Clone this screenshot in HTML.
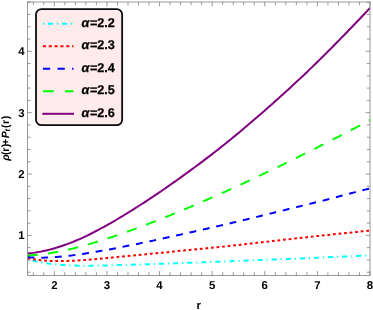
<!DOCTYPE html><html><head><meta charset="utf-8"><style>html,body{margin:0;padding:0;background:#fff}svg{display:block;will-change:transform;text-rendering:geometricPrecision}text{font-family:"Liberation Sans",sans-serif;font-weight:bold;fill:#000}</style></head><body>
<svg width="373" height="310" viewBox="0 0 373 310">
<rect width="373" height="310" fill="#fff"/>
<defs><clipPath id="c"><rect x="27.50" y="2.00" width="342.50" height="273.40"/></clipPath></defs>
<g clip-path="url(#c)" fill="none" stroke-width="2.00">
<path d="M27.59 259.10 L30.23 259.86 L32.86 260.66 L35.50 261.31 L38.14 261.87 L40.77 262.37 L43.41 262.83 L46.05 263.26 L48.68 263.63 L51.32 263.95 L53.96 264.24 L56.59 264.50 L59.23 264.73 L61.86 264.93 L64.50 265.11 L67.14 265.26 L69.77 265.38 L72.41 265.49 L75.05 265.57 L77.68 265.63 L80.32 265.67 L82.96 265.69 L85.59 265.70 L88.23 265.70 L90.87 265.68 L93.50 265.65 L96.14 265.62 L98.78 265.57 L101.41 265.52 L104.05 265.47 L106.69 265.40 L109.32 265.34 L111.96 265.27 L114.60 265.19 L117.23 265.12 L119.87 265.05 L122.51 264.97 L125.14 264.90 L127.78 264.82 L130.42 264.75 L133.05 264.68 L135.69 264.61 L138.33 264.53 L140.96 264.46 L143.60 264.38 L146.24 264.30 L148.87 264.21 L151.51 264.13 L154.15 264.04 L156.78 263.95 L159.42 263.87 L162.06 263.78 L164.69 263.68 L167.33 263.59 L169.97 263.50 L172.60 263.40 L175.24 263.31 L177.87 263.21 L180.51 263.12 L183.15 263.02 L185.78 262.92 L188.42 262.82 L191.06 262.72 L193.69 262.62 L196.33 262.52 L198.97 262.42 L201.60 262.32 L204.24 262.22 L206.88 262.12 L209.51 262.02 L212.15 261.92 L214.79 261.82 L217.42 261.71 L220.06 261.61 L222.70 261.51 L225.33 261.41 L227.97 261.30 L230.61 261.20 L233.24 261.10 L235.88 260.99 L238.52 260.89 L241.15 260.79 L243.79 260.68 L246.43 260.58 L249.06 260.48 L251.70 260.37 L254.34 260.27 L256.97 260.17 L259.61 260.07 L262.25 259.96 L264.88 259.86 L267.52 259.76 L270.16 259.65 L272.79 259.55 L275.43 259.45 L278.07 259.35 L280.70 259.24 L283.34 259.14 L285.97 259.04 L288.61 258.94 L291.25 258.84 L293.88 258.73 L296.52 258.63 L299.16 258.52 L301.79 258.41 L304.43 258.30 L307.07 258.18 L309.70 258.07 L312.34 257.95 L314.98 257.83 L317.61 257.72 L320.25 257.60 L322.89 257.48 L325.52 257.36 L328.16 257.24 L330.80 257.12 L333.43 257.00 L336.07 256.89 L338.71 256.77 L341.34 256.65 L343.98 256.54 L346.62 256.42 L349.25 256.31 L351.89 256.19 L354.53 256.08 L357.16 255.98 L359.80 255.87 L362.44 255.76 L365.07 255.66 L367.71 255.56 L370.35 255.46" stroke="#00ffff" stroke-dasharray="1.2 3.85 5.2 3.85"/>
<path d="M27.59 258.24 L30.23 258.71 L32.86 259.17 L35.50 259.57 L38.14 259.92 L40.77 260.22 L43.41 260.49 L46.05 260.70 L48.68 260.85 L51.32 260.96 L53.96 261.02 L56.59 261.05 L59.23 261.05 L61.86 261.04 L64.50 261.00 L67.14 260.94 L69.77 260.85 L72.41 260.75 L75.05 260.62 L77.68 260.48 L80.32 260.32 L82.96 260.14 L85.59 259.95 L88.23 259.75 L90.87 259.54 L93.50 259.32 L96.14 259.09 L98.78 258.85 L101.41 258.60 L104.05 258.35 L106.69 258.09 L109.32 257.84 L111.96 257.57 L114.60 257.31 L117.23 257.04 L119.87 256.78 L122.51 256.52 L125.14 256.25 L127.78 255.99 L130.42 255.73 L133.05 255.48 L135.69 255.22 L138.33 254.96 L140.96 254.70 L143.60 254.45 L146.24 254.19 L148.87 253.93 L151.51 253.67 L154.15 253.42 L156.78 253.16 L159.42 252.90 L162.06 252.65 L164.69 252.39 L167.33 252.13 L169.97 251.88 L172.60 251.62 L175.24 251.36 L177.87 251.10 L180.51 250.85 L183.15 250.59 L185.78 250.33 L188.42 250.07 L191.06 249.81 L193.69 249.55 L196.33 249.29 L198.97 249.02 L201.60 248.76 L204.24 248.50 L206.88 248.23 L209.51 247.97 L212.15 247.70 L214.79 247.43 L217.42 247.16 L220.06 246.89 L222.70 246.62 L225.33 246.34 L227.97 246.07 L230.61 245.79 L233.24 245.51 L235.88 245.22 L238.52 244.93 L241.15 244.64 L243.79 244.34 L246.43 244.05 L249.06 243.75 L251.70 243.45 L254.34 243.14 L256.97 242.84 L259.61 242.54 L262.25 242.23 L264.88 241.93 L267.52 241.62 L270.16 241.32 L272.79 241.01 L275.43 240.71 L278.07 240.41 L280.70 240.11 L283.34 239.82 L285.97 239.52 L288.61 239.23 L291.25 238.94 L293.88 238.65 L296.52 238.36 L299.16 238.07 L301.79 237.79 L304.43 237.50 L307.07 237.21 L309.70 236.92 L312.34 236.63 L314.98 236.35 L317.61 236.06 L320.25 235.78 L322.89 235.49 L325.52 235.21 L328.16 234.93 L330.80 234.64 L333.43 234.36 L336.07 234.08 L338.71 233.80 L341.34 233.53 L343.98 233.25 L346.62 232.97 L349.25 232.70 L351.89 232.43 L354.53 232.16 L357.16 231.89 L359.80 231.62 L362.44 231.35 L365.07 231.09 L367.71 230.82 L370.35 230.56" stroke="#ff0000" stroke-dasharray="2.8 2.78"/>
<path d="M27.59 257.11 L30.23 257.34 L32.86 257.51 L35.50 257.62 L38.14 257.68 L40.77 257.69 L43.41 257.66 L46.05 257.59 L48.68 257.49 L51.32 257.36 L53.96 257.19 L56.59 257.00 L59.23 256.79 L61.86 256.55 L64.50 256.28 L67.14 256.00 L69.77 255.69 L72.41 255.37 L75.05 255.02 L77.68 254.66 L80.32 254.28 L82.96 253.89 L85.59 253.49 L88.23 253.07 L90.87 252.64 L93.50 252.21 L96.14 251.76 L98.78 251.30 L101.41 250.84 L104.05 250.37 L106.69 249.89 L109.32 249.40 L111.96 248.91 L114.60 248.41 L117.23 247.90 L119.87 247.39 L122.51 246.87 L125.14 246.35 L127.78 245.83 L130.42 245.30 L133.05 244.76 L135.69 244.22 L138.33 243.68 L140.96 243.13 L143.60 242.59 L146.24 242.03 L148.87 241.48 L151.51 240.92 L154.15 240.36 L156.78 239.79 L159.42 239.23 L162.06 238.66 L164.69 238.09 L167.33 237.51 L169.97 236.94 L172.60 236.36 L175.24 235.78 L177.87 235.19 L180.51 234.61 L183.15 234.02 L185.78 233.43 L188.42 232.84 L191.06 232.25 L193.69 231.66 L196.33 231.06 L198.97 230.46 L201.60 229.87 L204.24 229.27 L206.88 228.66 L209.51 228.06 L212.15 227.46 L214.79 226.85 L217.42 226.24 L220.06 225.63 L222.70 225.02 L225.33 224.41 L227.97 223.80 L230.61 223.18 L233.24 222.56 L235.88 221.94 L238.52 221.32 L241.15 220.69 L243.79 220.06 L246.43 219.43 L249.06 218.79 L251.70 218.15 L254.34 217.51 L256.97 216.87 L259.61 216.23 L262.25 215.58 L264.88 214.94 L267.52 214.29 L270.16 213.64 L272.79 212.99 L275.43 212.34 L278.07 211.69 L280.70 211.04 L283.34 210.39 L285.97 209.74 L288.61 209.09 L291.25 208.44 L293.88 207.80 L296.52 207.15 L299.16 206.50 L301.79 205.85 L304.43 205.20 L307.07 204.54 L309.70 203.89 L312.34 203.24 L314.98 202.58 L317.61 201.92 L320.25 201.27 L322.89 200.61 L325.52 199.94 L328.16 199.27 L330.80 198.60 L333.43 197.91 L336.07 197.22 L338.71 196.53 L341.34 195.83 L343.98 195.13 L346.62 194.43 L349.25 193.73 L351.89 193.04 L354.53 192.35 L357.16 191.66 L359.80 190.98 L362.44 190.31 L365.07 189.65 L367.71 188.99 L370.35 188.35" stroke="#0000ff" stroke-dasharray="6.85 6.84"/>
<path d="M27.59 255.21 L30.23 255.18 L32.86 255.09 L35.50 254.93 L38.14 254.73 L40.77 254.47 L43.41 254.17 L46.05 253.83 L48.68 253.45 L51.32 253.03 L53.96 252.58 L56.59 252.10 L59.23 251.58 L61.86 251.04 L64.50 250.48 L67.14 249.89 L69.77 249.27 L72.41 248.63 L75.05 247.98 L77.68 247.30 L80.32 246.60 L82.96 245.88 L85.59 245.15 L88.23 244.40 L90.87 243.63 L93.50 242.85 L96.14 242.06 L98.78 241.24 L101.41 240.42 L104.05 239.58 L106.69 238.73 L109.32 237.87 L111.96 236.99 L114.60 236.11 L117.23 235.21 L119.87 234.30 L122.51 233.38 L125.14 232.46 L127.78 231.52 L130.42 230.57 L133.05 229.61 L135.69 228.64 L138.33 227.67 L140.96 226.68 L143.60 225.69 L146.24 224.69 L148.87 223.68 L151.51 222.67 L154.15 221.64 L156.78 220.61 L159.42 219.57 L162.06 218.52 L164.69 217.47 L167.33 216.41 L169.97 215.34 L172.60 214.27 L175.24 213.19 L177.87 212.10 L180.51 211.01 L183.15 209.91 L185.78 208.80 L188.42 207.69 L191.06 206.57 L193.69 205.45 L196.33 204.32 L198.97 203.18 L201.60 202.04 L204.24 200.90 L206.88 199.75 L209.51 198.59 L212.15 197.43 L214.79 196.26 L217.42 195.09 L220.06 193.91 L222.70 192.73 L225.33 191.54 L227.97 190.35 L230.61 189.15 L233.24 187.95 L235.88 186.75 L238.52 185.54 L241.15 184.32 L243.79 183.10 L246.43 181.88 L249.06 180.65 L251.70 179.41 L254.34 178.18 L256.97 176.94 L259.61 175.69 L262.25 174.44 L264.88 173.19 L267.52 171.93 L270.16 170.66 L272.79 169.40 L275.43 168.13 L278.07 166.85 L280.70 165.58 L283.34 164.29 L285.97 163.01 L288.61 161.72 L291.25 160.42 L293.88 159.13 L296.52 157.82 L299.16 156.52 L301.79 155.21 L304.43 153.90 L307.07 152.58 L309.70 151.26 L312.34 149.94 L314.98 148.62 L317.61 147.29 L320.25 145.95 L322.89 144.62 L325.52 143.28 L328.16 141.93 L330.80 140.58 L333.43 139.23 L336.07 137.88 L338.71 136.52 L341.34 135.16 L343.98 133.80 L346.62 132.43 L349.25 131.06 L351.89 129.69 L354.53 128.31 L357.16 126.93 L359.80 125.55 L362.44 124.17 L365.07 122.78 L367.71 121.39 L370.35 119.99" stroke="#00ff00" stroke-dasharray="10.25 10.25"/>
<path d="M27.59 253.34 L30.23 253.14 L32.86 252.87 L35.50 252.52 L38.14 252.11 L40.77 251.63 L43.41 251.09 L46.05 250.50 L48.68 249.86 L51.32 249.16 L53.96 248.42 L56.59 247.63 L59.23 246.81 L61.86 245.94 L64.50 245.03 L67.14 244.08 L69.77 243.10 L72.41 242.09 L75.05 241.04 L77.68 239.95 L80.32 238.81 L82.96 237.61 L85.59 236.36 L88.23 235.07 L90.87 233.75 L93.50 232.39 L96.14 231.01 L98.78 229.62 L101.41 228.21 L104.05 226.78 L106.69 225.32 L109.32 223.84 L111.96 222.34 L114.60 220.81 L117.23 219.26 L119.87 217.70 L122.51 216.11 L125.14 214.51 L127.78 212.89 L130.42 211.25 L133.05 209.59 L135.69 207.92 L138.33 206.22 L140.96 204.51 L143.60 202.79 L146.24 201.07 L148.87 199.35 L151.51 197.61 L154.15 195.86 L156.78 194.09 L159.42 192.31 L162.06 190.51 L164.69 188.70 L167.33 186.88 L169.97 185.04 L172.60 183.19 L175.24 181.33 L177.87 179.46 L180.51 177.57 L183.15 175.67 L185.78 173.76 L188.42 171.83 L191.06 169.90 L193.69 167.96 L196.33 166.02 L198.97 164.08 L201.60 162.12 L204.24 160.14 L206.88 158.14 L209.51 156.12 L212.15 154.09 L214.79 152.04 L217.42 149.98 L220.06 147.90 L222.70 145.81 L225.33 143.70 L227.97 141.58 L230.61 139.44 L233.24 137.29 L235.88 135.13 L238.52 132.95 L241.15 130.76 L243.79 128.55 L246.43 126.33 L249.06 124.10 L251.70 121.85 L254.34 119.59 L256.97 117.32 L259.61 115.03 L262.25 112.72 L264.88 110.41 L267.52 108.09 L270.16 105.76 L272.79 103.41 L275.43 101.06 L278.07 98.70 L280.70 96.33 L283.34 93.95 L285.97 91.56 L288.61 89.15 L291.25 86.73 L293.88 84.30 L296.52 81.85 L299.16 79.39 L301.79 76.92 L304.43 74.43 L307.07 71.92 L309.70 69.40 L312.34 66.85 L314.98 64.29 L317.61 61.72 L320.25 59.12 L322.89 56.51 L325.52 53.89 L328.16 51.25 L330.80 48.61 L333.43 45.95 L336.07 43.28 L338.71 40.60 L341.34 37.91 L343.98 35.21 L346.62 32.49 L349.25 29.77 L351.89 27.03 L354.53 24.29 L357.16 21.53 L359.80 18.76 L362.44 15.98 L365.07 13.19 L367.71 10.39 L370.35 7.58" stroke="#800080"/>
</g>
<g stroke="#787878" stroke-width="0.75" fill="none">
<rect x="27.50" y="2.00" width="342.50" height="273.40"/>
<path d="M33.25 275.40v-3.20M33.25 2.00v3.20M43.78 275.40v-3.20M43.78 2.00v3.20M54.30 275.40v-4.40M54.30 2.00v4.40M64.82 275.40v-3.20M64.82 2.00v3.20M75.35 275.40v-3.20M75.35 2.00v3.20M85.87 275.40v-3.20M85.87 2.00v3.20M96.40 275.40v-3.20M96.40 2.00v3.20M106.92 275.40v-4.40M106.92 2.00v4.40M117.44 275.40v-3.20M117.44 2.00v3.20M127.97 275.40v-3.20M127.97 2.00v3.20M138.49 275.40v-3.20M138.49 2.00v3.20M149.02 275.40v-3.20M149.02 2.00v3.20M159.54 275.40v-4.40M159.54 2.00v4.40M170.06 275.40v-3.20M170.06 2.00v3.20M180.59 275.40v-3.20M180.59 2.00v3.20M191.11 275.40v-3.20M191.11 2.00v3.20M201.64 275.40v-3.20M201.64 2.00v3.20M212.16 275.40v-4.40M212.16 2.00v4.40M222.68 275.40v-3.20M222.68 2.00v3.20M233.21 275.40v-3.20M233.21 2.00v3.20M243.73 275.40v-3.20M243.73 2.00v3.20M254.26 275.40v-3.20M254.26 2.00v3.20M264.78 275.40v-4.40M264.78 2.00v4.40M275.30 275.40v-3.20M275.30 2.00v3.20M285.83 275.40v-3.20M285.83 2.00v3.20M296.35 275.40v-3.20M296.35 2.00v3.20M306.88 275.40v-3.20M306.88 2.00v3.20M317.40 275.40v-4.40M317.40 2.00v4.40M327.92 275.40v-3.20M327.92 2.00v3.20M338.45 275.40v-3.20M338.45 2.00v3.20M348.97 275.40v-3.20M348.97 2.00v3.20M359.50 275.40v-3.20M359.50 2.00v3.20M370.02 275.40v-4.40M370.02 2.00v4.40M27.50 272.22h3.20M370.00 272.22h-3.20M27.50 259.95h3.20M370.00 259.95h-3.20M27.50 247.67h3.20M370.00 247.67h-3.20M27.50 235.40h4.40M370.00 235.40h-4.40M27.50 223.13h3.20M370.00 223.13h-3.20M27.50 210.85h3.20M370.00 210.85h-3.20M27.50 198.58h3.20M370.00 198.58h-3.20M27.50 186.30h3.20M370.00 186.30h-3.20M27.50 174.03h4.40M370.00 174.03h-4.40M27.50 161.76h3.20M370.00 161.76h-3.20M27.50 149.48h3.20M370.00 149.48h-3.20M27.50 137.21h3.20M370.00 137.21h-3.20M27.50 124.93h3.20M370.00 124.93h-3.20M27.50 112.66h4.40M370.00 112.66h-4.40M27.50 100.39h3.20M370.00 100.39h-3.20M27.50 88.11h3.20M370.00 88.11h-3.20M27.50 75.84h3.20M370.00 75.84h-3.20M27.50 63.56h3.20M370.00 63.56h-3.20M27.50 51.29h4.40M370.00 51.29h-4.40M27.50 39.02h3.20M370.00 39.02h-3.20M27.50 26.74h3.20M370.00 26.74h-3.20M27.50 14.47h3.20M370.00 14.47h-3.20M27.50 2.19h3.20M370.00 2.19h-3.20"/>
</g>
<text x="54.30" y="288.9" font-size="11.4" text-anchor="middle">2</text>
<text x="106.92" y="288.9" font-size="11.4" text-anchor="middle">3</text>
<text x="159.54" y="288.9" font-size="11.4" text-anchor="middle">4</text>
<text x="212.16" y="288.9" font-size="11.4" text-anchor="middle">5</text>
<text x="264.78" y="288.9" font-size="11.4" text-anchor="middle">6</text>
<text x="317.40" y="288.9" font-size="11.4" text-anchor="middle">7</text>
<text x="370.02" y="288.9" font-size="11.4" text-anchor="middle">8</text>
<text x="24.5" y="239.30" font-size="11.4" text-anchor="end">1</text>
<text x="24.5" y="177.93" font-size="11.4" text-anchor="end">2</text>
<text x="24.5" y="116.56" font-size="11.4" text-anchor="end">3</text>
<text x="24.5" y="55.19" font-size="11.4" text-anchor="end">4</text>
<text x="198.8" y="308.5" font-size="11.4" text-anchor="middle">r</text>
<text transform="translate(8.5,161.1) rotate(-90)" font-size="10.6" text-anchor="start"><tspan x="0.30" font-style="italic">ρ</tspan><tspan x="6.20">(</tspan><tspan x="9.30">r</tspan><tspan x="13.95">)</tspan><tspan x="16.20">+</tspan><tspan x="22.90" font-style="italic">P</tspan><tspan x="29.60" font-style="italic" font-size="7.6" dy="1.8">t</tspan><tspan x="33.15" dy="-1.8">(</tspan><tspan x="37.00">r</tspan><tspan x="41.75">)</tspan></text>
<rect x="36.0" y="9.1" width="86.15" height="116.05" rx="5.5" ry="5.5" fill="#ffebeb" stroke="#0c0c0c" stroke-width="1.8"/>
<path d="M42.9 23.80H73.5" stroke="#00ffff" stroke-width="2" fill="none" stroke-dasharray="1.5 3.6 5 3.9"/>
<text x="81.5" y="26.90" font-size="12.7" stroke="#000" stroke-width="0.25"><tspan font-style="italic">α</tspan><tspan dx="0.5">=2.2</tspan></text>
<path d="M42.9 46.30H73.5" stroke="#ff0000" stroke-width="2" fill="none" stroke-dasharray="3 2.85"/>
<text x="81.5" y="49.40" font-size="12.7" stroke="#000" stroke-width="0.25"><tspan font-style="italic">α</tspan><tspan dx="0.5">=2.3</tspan></text>
<path d="M42.9 68.80H73.5" stroke="#0000ff" stroke-width="2" fill="none" stroke-dasharray="7.3 7.3"/>
<text x="81.5" y="71.90" font-size="12.7" stroke="#000" stroke-width="0.25"><tspan font-style="italic">α</tspan><tspan dx="0.5">=2.4</tspan></text>
<path d="M42.9 91.30H73.5" stroke="#00ff00" stroke-width="2" fill="none" stroke-dasharray="11 11"/>
<text x="81.5" y="94.40" font-size="12.7" stroke="#000" stroke-width="0.25"><tspan font-style="italic">α</tspan><tspan dx="0.5">=2.5</tspan></text>
<path d="M42.3 113.80H74.0" stroke="#800080" stroke-width="2" fill="none"/>
<text x="81.5" y="116.90" font-size="12.7" stroke="#000" stroke-width="0.25"><tspan font-style="italic">α</tspan><tspan dx="0.5">=2.6</tspan></text>
</svg></body></html>
